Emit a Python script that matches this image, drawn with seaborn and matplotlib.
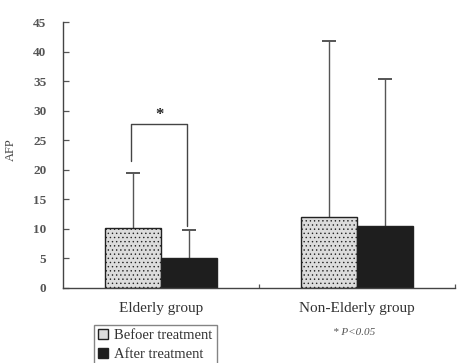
import matplotlib
matplotlib.use("Agg")
import matplotlib.pyplot as plt
import seaborn as sns
import pandas as pd
import numpy as np

groups = ["Elderly group", "Non-Elderly group"]
conditions = ["Befoer treatment", "After treatment"]
means_before = [10.1, 12.0]
means_after = [5.1, 10.4]
sd_before = [9.4, 29.8]
sd_after = [4.75, 24.9]
bracket_level = 27.7
yticks = [0, 5, 10, 15, 20, 25, 30, 35, 40, 45]

df = pd.DataFrame({
    "group": groups * 2,
    "condition": [conditions[0]] * 2 + [conditions[1]] * 2,
    "AFP": means_before + means_after,
})

sns.set_style("white")
plt.rcParams["font.family"] = ["Liberation Serif", "DejaVu Serif"]
plt.rcParams["hatch.color"] = "#c2c2c2"
plt.rcParams["hatch.linewidth"] = 0.5

fig = plt.figure(figsize=(4.57, 3.63), dpi=100)
ax = fig.add_axes([0.138, 0.207, 0.858, 0.732])

palette = {conditions[0]: "#dcdcdc", conditions[1]: "#1e1e1e"}
sns.barplot(data=df, x="group", y="AFP", hue="condition", order=groups,
            hue_order=conditions, palette=palette, width=0.57, errorbar=None,
            edgecolor="#222222", linewidth=1.0, saturation=1, ax=ax, legend=True)

bars = list(ax.patches[:4])
# speckled texture on the "before" bars
for bar in bars[:2]:
    bar.set_hatch("....")
for bar in bars:
    bar.set_zorder(2)

# one-sided (upper) error bars with a cap at the top only
sds = sd_before + sd_after
for bar, sd in zip(bars, sds):
    xc = bar.get_x() + bar.get_width() / 2
    h = bar.get_height()
    ax.plot([xc, xc], [h, h + sd], color="#555555", lw=1.0, zorder=1)
    ax.plot([xc - 0.035, xc + 0.035], [h + sd, h + sd], color="#555555",
            lw=1.4, zorder=1, solid_capstyle="butt")

# significance bracket over the elderly group
xl = bars[0].get_x() + bars[0].get_width() * 0.47
xr = bars[2].get_x() + bars[2].get_width() * 0.47
ax.plot([xl, xl, xr, xr], [21.5, bracket_level, bracket_level, 10.5],
        color="#444444", lw=1.0, zorder=3)
ax.text((xl + xr) / 2, bracket_level + 0.2, "*", ha="center", va="bottom",
        fontsize=12, color="#222222", fontweight="bold")

ax.set_ylim(0, 45)
ax.set_xlim(-0.5, 1.5)
ax.set_yticks(yticks)
ax.set_yticklabels([str(t) for t in yticks], fontsize=9.5, color="#555555",
                   fontweight="bold")
ax.tick_params(axis="y", left=True, direction="in", length=4, width=0.9,
               color="#555555", pad=12)
ax.set_xticks(range(len(groups)))
ax.set_xticklabels(groups, fontsize=11, color="#333333")
ax.tick_params(axis="x", which="major", bottom=True, length=0, pad=10)
ax.set_xticks([0.5, 1.5], minor=True)
ax.tick_params(axis="x", which="minor", bottom=True, direction="in", length=3,
               width=0.9, color="#555555")
ax.set_xlabel("")
ax.set_ylabel("AFP", fontsize=9, color="#444444")
ax.yaxis.set_label_coords(-0.118, 0.52)

for side in ["top", "right"]:
    ax.spines[side].set_visible(False)
for side in ["left", "bottom"]:
    ax.spines[side].set_color("#444444")
    ax.spines[side].set_linewidth(1.0)

handles, labels = ax.get_legend_handles_labels()
ax.legend_.remove()
leg = fig.legend(handles, labels, loc="upper left", bbox_to_anchor=(0.205, 0.105),
                 fontsize=10.5, frameon=True, fancybox=False, edgecolor="#666666",
                 handlelength=0.7, handleheight=0.7, handletextpad=0.4,
                 borderpad=0.3, labelspacing=0.35, borderaxespad=0)
leg.get_frame().set_linewidth(1.0)
for t in leg.get_texts():
    t.set_color("#333333")

fig.text(0.775, 0.083, "* P<0.05", fontsize=8, style="italic", color="#555555",
         ha="center", va="center")

fig.savefig("out.png", dpi=100)
